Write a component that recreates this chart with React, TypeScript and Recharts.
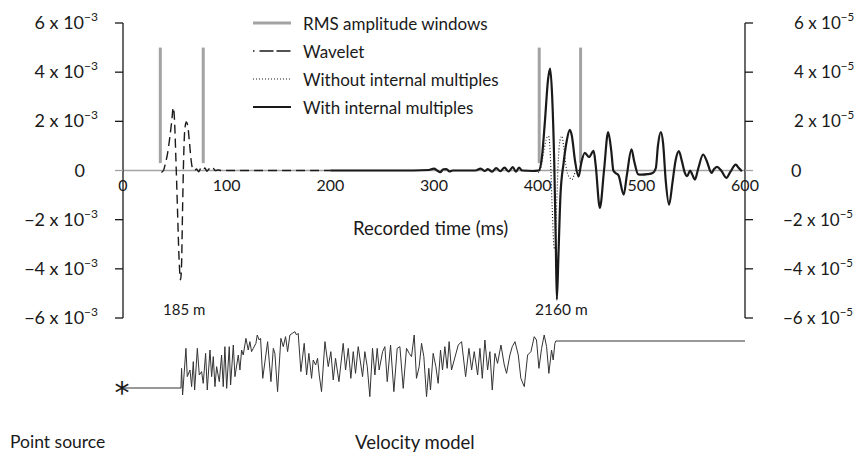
import React from 'react';
import { ComposedChart, LineChart, Line, XAxis, YAxis, ReferenceLine, Legend } from 'recharts';

const FONT = 'Lato, "Open Sans", sans-serif';
const INK = '#1a1a1a';
const GREY = '#a3a3a3';

// ---- axes ----
const timeTicks = [0, 100, 200, 300, 400, 500, 600];
const ampTicks = [-6, -4, -2, 0, 2, 4, 6];

// ---- Wavelet (x 10^-3, left axis) ----
const waveletTime = [37, 39, 41, 43, 45, 47, 48.5, 49.5, 51, 52.5, 54, 55.5, 56.5, 57.5, 58.5, 59.5, 61, 62.5, 64, 65.5, 67, 69, 71, 73, 75, 77, 79, 81, 83, 85, 87, 89, 92, 95, 200];
const waveletAmp = [-0.08, 0, 0.3, 0.7, 1.3, 2.0, 2.56, 2.2, 0.5, -1.5, -3.5, -4.45, -3.8, -1.5, 0.5, 1.6, 1.97, 1.8, 1.2, 0.5, 0.1, 0, 0.06, -0.05, 0.08, 0, 0.1, -0.03, 0.06, -0.02, 0.08, 0, 0.02, 0, 0];

// ---- Without internal multiples (x 10^-5, right axis) ----
const withoutTime = [398, 401, 403, 406, 409, 410.5, 412, 414, 416, 417, 418.5, 420, 422, 423.5, 425, 428, 431, 433, 435, 437, 440];
const withoutAmp = [0, -0.07, 0.1, 0.8, 1.35, 1.4, 0.8, -1.5, -3.2, -3.1, -1.2, 0.5, 1.3, 1.4, 1.0, 0, -0.3, -0.37, -0.2, 0, 0];

// ---- With internal multiples (x 10^-5, right axis) ----
const withTime = [200, 280, 295, 300, 303, 306, 309, 312, 315, 318, 340, 345, 349, 352, 356, 360, 364, 368, 372, 376, 379, 382, 385, 395, 401, 404, 407, 410, 412, 414, 416, 417.5, 418.5, 420, 422, 425, 428, 431, 433, 436, 439.5, 442, 445.5, 449.5, 454, 456, 460, 464, 468, 471, 473, 475, 478, 483, 486, 490.5, 493, 497, 500, 506, 511, 514, 516, 518.8, 521, 523.5, 526.8, 530, 533, 536.2, 539, 542, 544.2, 547, 549, 551.6, 555, 559.6, 563, 567.7, 570, 573, 577, 582, 586, 591, 594, 597];
const withAmp = [0, 0, 0.02, 0.08, 0, -0.07, 0.05, 0.06, -0.04, 0, 0, 0.08, -0.02, 0.06, -0.05, 0.1, -0.03, 0.12, -0.04, 0.14, -0.05, 0.12, 0, -0.02, 0, 0.5, 2.0, 3.7, 4.15, 3.0, 0.3, -3.0, -5.25, -3.5, -1.0, 0.3, 1.2, 1.65, 1.4, 0.4, -0.25, 0.3, 0.72, 0.55, 0.8, 0.2, -1.52, 0, 1.56, 0.8, 0.0, -0.1, -0.2, -0.98, -0.2, 0.86, 0.4, -0.16, -0.17, -0.15, -0.1, 0.1, 1.0, 1.56, 1.1, -0.4, -1.39, -0.5, 0.4, 0.79, 0.4, -0.1, -0.23, 0.0, -0.15, -0.37, 0.1, 0.65, 0.4, -0.1, 0.05, 0.15, 0.0, -0.3, -0.05, 0.24, 0.1, -0.03];

// ---- RMS amplitude windows (ms) ----
const rmsWindowTimes = [36, 77.4, 401.5, 441.4];
const rmsWindowBottom = 0.3;
const rmsWindowTop = 5.0;

// ---- Velocity model (m/s) vs two-way time (ms) ----
const velTime = [0, 55.9, 56.5, 57.5, 60.7, 62.0, 64.6, 66.2, 67.8, 69.1, 71.7, 73.6, 75.8, 77.4, 79.7, 81.3, 83.9, 85.5, 87.1, 88.7, 90.3, 92.9, 95.1, 96.7, 98.3, 100.0, 102.5, 103.8, 106.4, 108.0, 111.2, 112.8, 114.4, 116.0, 118.6, 120.8, 122.4, 124.0, 125.7, 128.2, 129.5, 131.4, 132.7, 134.8, 139.5, 142.7, 145.0, 146.5, 149.1, 152.3, 154.6, 156.8, 158.8, 161.0, 163.3, 165.8, 167.4, 169.0, 171.6, 174.8, 177.1, 179.3, 181.9, 183.5, 185.8, 187.7, 189.3, 191.5, 194.8, 198.0, 200.5, 202.8, 205.0, 208.3, 212.4, 214.7, 217.3, 219.8, 222.1, 224.3, 226.9, 231.1, 233.3, 235.6, 238.1, 240.7, 243.0, 245.2, 247.1, 250.4, 252.6, 254.9, 258.1, 261.3, 264.5, 267.1, 270.3, 273.5, 276.1, 278.3, 280.9, 283.1, 285.7, 288.0, 290.2, 292.8, 295.0, 296.6, 299.2, 301.8, 304.0, 306.3, 308.2, 310.5, 312.7, 314.6, 316.9, 323.4, 326.6, 330.5, 333.7, 336.3, 338.8, 342.1, 344.3, 346.6, 349.1, 351.7, 353.9, 356.2, 358.8, 361.3, 364.6, 367.8, 370.0, 373.2, 375.5, 378.1, 381.3, 383.8, 387.1, 390.3, 393.5, 396.7, 398.9, 401.2, 403.8, 406.3, 408.6, 410.8, 413.4, 415.0, 416.6, 417.5, 600];
const velValue = [1500, 1500, 1893, 1360, 2293, 1727, 1860, 1527, 2027, 1460, 2293, 1760, 1827, 1593, 2193, 1460, 2260, 1727, 2127, 1527, 1927, 1627, 2160, 1527, 2327, 1493, 2327, 1560, 2360, 1727, 2160, 1860, 2260, 2160, 2493, 2260, 2427, 2227, 2293, 2393, 2560, 2460, 2493, 1693, 2427, 1627, 2293, 2193, 1427, 2493, 2327, 2527, 2227, 2560, 2593, 2627, 2560, 2593, 1827, 2393, 1760, 2193, 1693, 2060, 1960, 2093, 1760, 1427, 2427, 1927, 2227, 1660, 2093, 1627, 2393, 1860, 2293, 1693, 2227, 1793, 2327, 1727, 2227, 1927, 1327, 2293, 1760, 2293, 1860, 2227, 2327, 1627, 2360, 1427, 2293, 2327, 1493, 2293, 2193, 2127, 2560, 1693, 1927, 2393, 2127, 1327, 1893, 1460, 2193, 1927, 1593, 2260, 1860, 2327, 1893, 2427, 1860, 2360, 2427, 1727, 2293, 1860, 2227, 1760, 2293, 1693, 2460, 1860, 2227, 1460, 2193, 1993, 2360, 1960, 1793, 2160, 2327, 2427, 2160, 1693, 1527, 2160, 2227, 2527, 2460, 1893, 2293, 2560, 2327, 1793, 2260, 2060, 2393, 2440, 2440];
const velDomain = [1260, 2860];

// ---- legend ----
const legendItems = [
  { name: 'RMS amplitude windows', stroke: GREY, width: 3, dash: undefined as string | undefined },
  { name: 'Wavelet', stroke: INK, width: 1.4, dash: '1.5 5 14 3 14' },
  { name: 'Without internal multiples', stroke: INK, width: 1, dash: '1 2' },
  { name: 'With internal multiples', stroke: INK, width: 2.2, dash: undefined },
];

const toSeries = (t: number[], v: number[]) => t.map((x, i) => ({ t: x, v: v[i] }));
const waveletData = toSeries(waveletTime, waveletAmp);
const withoutData = toSeries(withoutTime, withoutAmp);
const withData = toSeries(withTime, withAmp);
const velData = toSeries(velTime, velValue);

// ---- layout ----
const W = 848;
const MAIN_H = 320;
const M_TOP = 15;
const X_AXIS_H = 10;
const PLOT_H = MAIN_H - M_TOP - X_AXIS_H;
const ZERO_Y = M_TOP + PLOT_H / 2;
const LEFT_AXIS_W = 115;
const RIGHT_AXIS_W = 111;

const fmtMant = (v: number) => (v < 0 ? '\u2212' : '') + Math.abs(v) + ' x 10';

const LeftTick = (props: any) => {
  const { x, y, payload } = props;
  const v = payload.value;
  const axisX = x + 25;
  return (
    <g>
      <line x1={axisX - 8} x2={axisX} y1={y} y2={y} stroke={v === 0 ? GREY : INK} strokeWidth={1.3} />
      {v === 0 ? (
        <text x={x - 13} y={y + 6} textAnchor="end" fontSize={18} fontFamily={FONT} fill={INK}>0</text>
      ) : (
        <text x={x} y={y + 6} textAnchor="end" fontSize={18} fontFamily={FONT} fill={INK}>
          {fmtMant(v)}
          <tspan dy={-8} fontSize={12}>{'\u22123'}</tspan>
        </text>
      )}
    </g>
  );
};

const RightTick = (props: any) => {
  const { x, y, payload } = props;
  const v = payload.value;
  const axisX = x - 38;
  return (
    <g>
      <line x1={axisX} x2={axisX + 8} y1={y} y2={y} stroke={v === 0 ? GREY : INK} strokeWidth={1.3} />
      {v === 0 ? (
        <text x={x + 8} y={y + 6} textAnchor="start" fontSize={18} fontFamily={FONT} fill={INK}>0</text>
      ) : (
        <text x={v < 0 ? x : x + 11} y={y + 6} textAnchor="start" fontSize={17} fontFamily={FONT} fill={INK}>
          {fmtMant(v)}
          <tspan dy={-8} fontSize={11.5}>{'\u22125'}</tspan>
        </text>
      )}
    </g>
  );
};

const XTick = (props: any) => {
  const { x, payload } = props;
  return (
    <text x={x} y={ZERO_Y + 20} textAnchor="middle" fontSize={16} fontFamily={FONT} fill={INK}>
      {payload.value}
    </text>
  );
};

const renderLegend = () => (
  <div style={{ fontFamily: FONT, fontSize: 17, color: INK }}>
    {legendItems.map((it) => (
      <div key={it.name} style={{ display: 'flex', alignItems: 'center', height: 28 }}>
        <svg width={38} height={8} style={{ display: 'block' }}>
          <line x1={0} y1={4} x2={38} y2={4} stroke={it.stroke} strokeWidth={it.width} strokeDasharray={it.dash} />
        </svg>
        <span style={{ marginLeft: 12, whiteSpace: 'nowrap' }}>{it.name}</span>
      </div>
    ))}
  </div>
);

const StarDot = (p: any) =>
  p.index === 0 ? (
    <text key="star" x={p.cx - 1} y={p.cy + 15} textAnchor="middle" fontSize={30} fontFamily="DejaVu Sans, sans-serif" fill={INK}>*</text>
  ) : (
    <g key={`d${p.index}`} />
  );

const textStyle: React.CSSProperties = { position: 'absolute', fontFamily: FONT, color: INK, whiteSpace: 'nowrap', lineHeight: '22px' };

export default function App() {
  return (
    <div style={{ position: 'relative', width: W, height: 447, background: '#fff' }}>
      <div style={{ position: 'absolute', left: 0, top: 0 }}>
        <ComposedChart width={W} height={MAIN_H} margin={{ top: M_TOP, right: 0, bottom: 0, left: 0 }}>
          <XAxis
            dataKey="t"
            type="number"
            domain={[0, 600]}
            ticks={timeTicks}
            height={X_AXIS_H}
            axisLine={false}
            tickLine={false}
            tick={<XTick />}
            interval={0}
          />
          <YAxis
            yAxisId="L"
            domain={[-6, 6]}
            ticks={ampTicks}
            width={LEFT_AXIS_W}
            axisLine={{ stroke: INK, strokeWidth: 1.3 }}
            tickLine={false}
            tickSize={8}
            tickMargin={17}
            tick={<LeftTick />}
            interval={0}
          />
          <YAxis
            yAxisId="R"
            orientation="right"
            domain={[-6, 6]}
            ticks={ampTicks}
            width={RIGHT_AXIS_W}
            axisLine={{ stroke: INK, strokeWidth: 1.3 }}
            tickLine={false}
            tickSize={8}
            tickMargin={30}
            tick={<RightTick />}
            interval={0}
          />
          <ReferenceLine yAxisId="L" y={0} stroke={GREY} strokeWidth={1.5} />
          {rmsWindowTimes.map((t) => (
            <ReferenceLine
              key={t}
              yAxisId="L"
              segment={[{ x: t, y: rmsWindowBottom }, { x: t, y: rmsWindowTop }]}
              stroke={GREY}
              strokeWidth={3}
            />
          ))}
          <Line yAxisId="L" data={waveletData} dataKey="v" type="monotone" stroke={INK} strokeWidth={1.4} strokeDasharray="9 5" dot={false} isAnimationActive={false} name="Wavelet" />
          <Line yAxisId="R" data={withoutData} dataKey="v" type="monotone" stroke={INK} strokeWidth={1.1} strokeDasharray="1 2" dot={false} isAnimationActive={false} name="Without internal multiples" />
          <Line yAxisId="R" data={withData} dataKey="v" type="monotone" stroke={INK} strokeWidth={2.2} dot={false} isAnimationActive={false} name="With internal multiples" />
          <Legend
            content={renderLegend}
            layout="vertical"
            align="center"
            verticalAlign="middle"
            wrapperStyle={{ position: 'absolute', top: 1, left: 245, width: 'auto' }}
          />
        </ComposedChart>
      </div>
      <div style={{ position: 'absolute', left: 0, top: 312 }}>
        <LineChart width={W} height={95} margin={{ top: 0, right: RIGHT_AXIS_W, bottom: 15, left: LEFT_AXIS_W }}>
          <XAxis dataKey="t" type="number" domain={[0, 600]} hide />
          <YAxis domain={velDomain} hide />
          <Line data={velData} dataKey="v" type="linear" stroke="#333" strokeWidth={1} dot={StarDot} isAnimationActive={false} name="Velocity model" />
        </LineChart>
      </div>
      <div style={{ ...textStyle, left: 345, top: 209, fontSize: 18.5 }}>Recorded time (ms)</div>
      <div style={{ ...textStyle, left: 155, top: 290, fontSize: 15 }}>185 m</div>
      <div style={{ ...textStyle, left: 527, top: 290, fontSize: 15.5 }}>2160 m</div>
      <div style={{ ...textStyle, left: 2, top: 423, fontSize: 17.5 }}>Point source</div>
      <div style={{ ...textStyle, left: 347, top: 423, fontSize: 18.5 }}>Velocity model</div>
    </div>
  );
}
